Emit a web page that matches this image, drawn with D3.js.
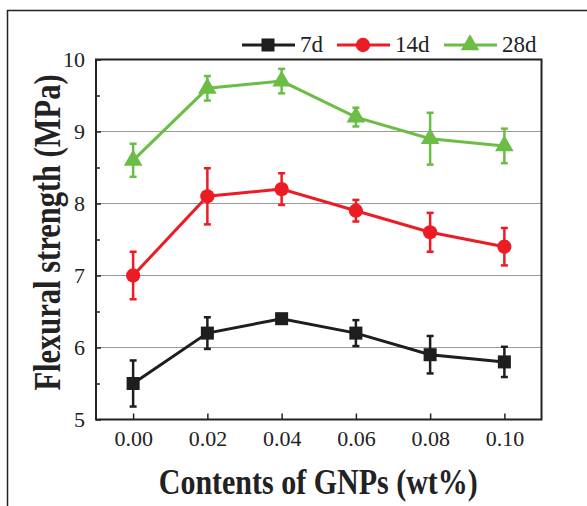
<!DOCTYPE html>
<html>
<head>
<meta charset="utf-8">
<script src="https://cdn.jsdelivr.net/npm/d3@7"></script>
<style>
  body { margin: 0; background: #fff; }
  svg { display: block; }
</style>
</head>
<body>
<svg id="chart" width="587" height="506"></svg>
<script>
// GNP content (wt%)
const contents = [0.00, 0.02, 0.04, 0.06, 0.08, 0.10];
const xTicks = [0.00, 0.02, 0.04, 0.06, 0.08, 0.10];
const yTicks = [5, 6, 7, 8, 9, 10];

const names = ["7d", "14d", "28d"];
const mean7 = [5.5, 6.2, 6.4, 6.2, 5.9, 5.8];
const err7 = [0.32, 0.22, 0.06, 0.18, 0.26, 0.21];
const mean14 = [7.0, 8.1, 8.2, 7.9, 7.6, 7.4];
const err14 = [0.33, 0.39, 0.22, 0.15, 0.27, 0.26];
const mean28 = [8.6, 9.6, 9.7, 9.2, 8.9, 8.8];
const err28 = [0.23, 0.17, 0.17, 0.13, 0.36, 0.24];

const colors = ["#1e1e1e", "#ec1c24", "#6bbd45"];
const symbols = [d3.symbolSquare, d3.symbolCircle, d3.symbolTriangle];
const symSize = [170, 160, 150];

const font = "'Liberation Serif', 'DejaVu Serif', serif";

const series = [
  { name: names[0], mean: mean7, err: err7 },
  { name: names[1], mean: mean14, err: err14 },
  { name: names[2], mean: mean28, err: err28 }
];

const svg = d3.select("#chart");

// outer figure frame
svg.append("rect")
  .attr("x", 7.5).attr("y", 10.5)
  .attr("width", 700).attr("height", 700)
  .attr("fill", "none").attr("stroke", "#222").attr("stroke-width", 1.5);

const pLeft = 96, pRight = 541.5, pTop = 59.5, pBottom = 419.5;

const x = d3.scaleLinear().domain([-0.01, 0.11]).range([pLeft, pRight]);
const y = d3.scaleLinear().domain([5, 10]).range([pBottom, pTop]);

// gridlines
svg.append("g")
  .selectAll("line")
  .data(yTicks.slice(1, -1))
  .enter()
  .append("line")
  .attr("x1", pLeft).attr("x2", pRight)
  .attr("y1", d => y(d)).attr("y2", d => y(d))
  .attr("stroke", "#9a9a9a").attr("stroke-width", 1);

// y axis
const yAxis = svg.append("g")
  .attr("transform", `translate(${pLeft},0)`)
  .call(d3.axisLeft(y).tickValues(yTicks).tickSize(-5).tickPadding(11).tickFormat(d3.format("d")));
yAxis.select(".domain").remove();

const yMinor = svg.append("g")
  .attr("transform", `translate(${pLeft},0)`)
  .call(d3.axisLeft(y).tickValues(d3.range(5.5, 10, 1)).tickSize(-4).tickFormat(""));
yMinor.select(".domain").remove();

// x axis
const xAxis = svg.append("g")
  .attr("transform", `translate(0,${pBottom})`)
  .call(d3.axisBottom(x).tickValues(xTicks).tickSize(-6).tickPadding(11).tickFormat(d3.format(".2f")));
xAxis.select(".domain").remove();

svg.selectAll(".tick line").attr("stroke", "#222").attr("stroke-width", 1.5);
svg.selectAll(".tick text")
  .attr("font-family", font)
  .attr("font-size", 22).attr("fill", "#222");

// plot frame
svg.append("rect")
  .attr("x", pLeft).attr("y", pTop)
  .attr("width", pRight - pLeft).attr("height", pBottom - pTop)
  .attr("fill", "none").attr("stroke", "#222").attr("stroke-width", 2);

// axis titles (glyphs are a bit taller than wide in the source)
svg.append("text")
  .attr("transform", `translate(${(pLeft + pRight) / 2 - 0.5},494) scale(1,1.22)`)
  .attr("text-anchor", "middle")
  .attr("font-family", font)
  .attr("font-size", 30).attr("font-weight", "bold").attr("fill", "#222")
  .text("Contents of GNPs (wt%)");

svg.append("text")
  .attr("transform", `translate(60,${(pTop + pBottom) / 2 - 7}) rotate(-90) scale(1,1.22)`)
  .attr("text-anchor", "middle")
  .attr("font-family", font)
  .attr("font-size", 30.5).attr("font-weight", "bold").attr("fill", "#222")
  .text("Flexural strength (MPa)");

// series
const line = d3.line().x(d => x(d.c)).y(d => y(d.v));

series.forEach((s, i) => {
  const pts = contents.map((c, j) => ({ c: c, v: s.mean[j], e: s.err[j] }));
  const g = svg.append("g");

  g.append("path")
    .datum(pts)
    .attr("d", line)
    .attr("fill", "none")
    .attr("stroke", colors[i])
    .attr("stroke-width", 3);

  const eb = g.selectAll(".err")
    .data(pts)
    .enter()
    .append("g")
    .attr("stroke", colors[i])
    .attr("stroke-width", 2.5);
  eb.append("line")
    .attr("x1", d => x(d.c)).attr("x2", d => x(d.c))
    .attr("y1", d => y(d.v - d.e)).attr("y2", d => y(d.v + d.e));
  eb.append("line")
    .attr("x1", d => x(d.c) - 3.5).attr("x2", d => x(d.c) + 3.5)
    .attr("y1", d => y(d.v + d.e)).attr("y2", d => y(d.v + d.e));
  eb.append("line")
    .attr("x1", d => x(d.c) - 3.5).attr("x2", d => x(d.c) + 3.5)
    .attr("y1", d => y(d.v - d.e)).attr("y2", d => y(d.v - d.e));

  g.selectAll(".pt")
    .data(pts)
    .enter()
    .append("path")
    .attr("d", d3.symbol().type(symbols[i]).size(symSize[i]))
    .attr("transform", d => `translate(${x(d.c)},${y(d.v)})`)
    .attr("fill", colors[i]);
});

// legend
const legX = [242, 337, 444];
const legY = 45;
const leg = svg.append("g")
  .selectAll("g")
  .data(series)
  .enter()
  .append("g")
  .attr("transform", (d, i) => `translate(${legX[i]},${legY})`);
leg.append("line")
  .attr("x1", 0).attr("x2", 53).attr("y1", 0).attr("y2", 0)
  .attr("stroke", (d, i) => colors[i]).attr("stroke-width", 3);
leg.append("path")
  .attr("d", (d, i) => d3.symbol().type(symbols[i]).size(symSize[i])())
  .attr("transform", "translate(26,0)")
  .attr("fill", (d, i) => colors[i]);
leg.append("text")
  .attr("x", 58).attr("y", 7)
  .attr("font-family", font)
  .attr("font-size", 23).attr("fill", "#222")
  .text(d => d.name);
</script>
</body>
</html>
